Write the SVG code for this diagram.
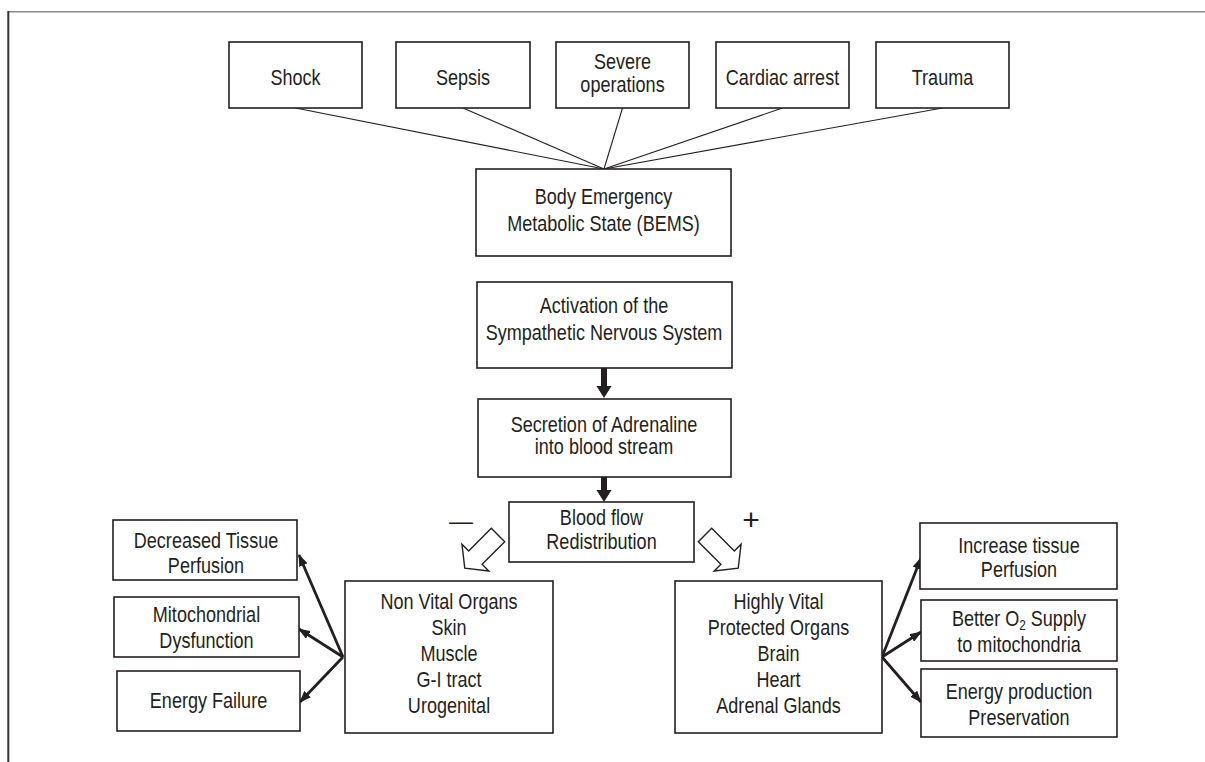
<svg xmlns="http://www.w3.org/2000/svg" width="1205" height="762" viewBox="0 0 1205 762">
<defs>
<style>
.box{fill:#fff;stroke:#231f20;stroke-width:1.6}
.t{font-family:"Liberation Sans",Arial,sans-serif;font-size:21.5px;fill:#231f20;text-anchor:middle}
.thin{stroke:#231f20;stroke-width:1.1;fill:none}
.thick{stroke:#231f20;stroke-width:2.8;fill:none;marker-end:url(#ah)}
.hollow{fill:#fff;stroke:#231f20;stroke-width:1.4;stroke-linejoin:miter}
</style>
<marker id="ah" viewBox="0 0 12 9" refX="11" refY="4.5" markerWidth="12" markerHeight="9" markerUnits="userSpaceOnUse" orient="auto">
<path d="M0,0 L12,4.5 L0,9 z" fill="#231f20"/>
</marker>
</defs>
<rect width="1205" height="762" fill="#fff"/>
<g id="frame">
<line x1="8" y1="11.7" x2="1205" y2="11.7" stroke="#8a8a8a" stroke-width="1.6"/>
<line x1="8.3" y1="11" x2="8.3" y2="762" stroke="#333" stroke-width="2"/>
</g>
<g id="connectors">
<line class="thin" x1="295.5" y1="108" x2="604" y2="169"/>
<line class="thin" x1="463" y1="108" x2="604" y2="169"/>
<line class="thin" x1="622.5" y1="108" x2="604" y2="169"/>
<line class="thin" x1="782.5" y1="108" x2="604" y2="169"/>
<line class="thin" x1="942.5" y1="108" x2="604" y2="169"/>
<polygon points="601,368 607,368 607,386 611.5,386 604,398 596.5,386 601,386" fill="#231f20"/>
<polygon points="601,477 607,477 607,490 611.5,490 604,502 596.5,490 601,490" fill="#231f20"/>
<polygon class="hollow" transform="translate(498,535) rotate(135)" points="0,-9.5 32,-9.5 32,-19 47,0 32,19 32,9.5 0,9.5"/>
<polygon class="hollow" transform="translate(705,535) rotate(45)" points="0,-9.5 32,-9.5 32,-19 47,0 32,19 32,9.5 0,9.5"/>
<line class="thick" x1="343" y1="657" x2="299" y2="555"/>
<line class="thick" x1="343" y1="657" x2="299" y2="629"/>
<line class="thick" x1="343" y1="657" x2="300" y2="702"/>
<line class="thick" x1="882" y1="657" x2="921" y2="558"/>
<line class="thick" x1="882" y1="657" x2="921" y2="632"/>
<line class="thick" x1="882" y1="657" x2="921" y2="702"/>
<text x="461" y="528.5" font-family="Liberation Sans, sans-serif" font-size="24" fill="#231f20" text-anchor="middle">—</text>
<text x="751" y="530" font-family="Liberation Sans, sans-serif" font-size="30" fill="#231f20" text-anchor="middle">+</text>
</g>
<g id="shock"><rect class="box" x="229" y="42" width="133" height="66"/><text class="t" transform="translate(295.5 85) scale(0.84 1)">Shock</text></g>
<g id="sepsis"><rect class="box" x="396" y="42" width="134" height="66"/><text class="t" transform="translate(463 85) scale(0.84 1)">Sepsis</text></g>
<g id="severe"><rect class="box" x="556" y="42" width="133" height="66"/><text class="t" transform="translate(622.5 69) scale(0.84 1)">Severe</text><text class="t" transform="translate(622.5 92) scale(0.84 1)">operations</text></g>
<g id="cardiac"><rect class="box" x="716" y="42" width="133" height="66"/><text class="t" transform="translate(782.5 85) scale(0.84 1)">Cardiac arrest</text></g>
<g id="trauma"><rect class="box" x="876" y="42" width="133" height="66"/><text class="t" transform="translate(942.5 85) scale(0.84 1)">Trauma</text></g>
<g id="bems"><rect class="box" x="476" y="169" width="255" height="87"/><text class="t" transform="translate(603.5 204) scale(0.84 1)">Body Emergency</text><text class="t" transform="translate(603.5 231) scale(0.84 1)">Metabolic State (BEMS)</text></g>
<g id="activation"><rect class="box" x="477" y="282" width="255" height="86"/><text class="t" transform="translate(604 313) scale(0.84 1)">Activation of the</text><text class="t" transform="translate(604 340) scale(0.84 1)">Sympathetic Nervous System</text></g>
<g id="secretion"><rect class="box" x="478" y="399" width="253" height="78"/><text class="t" transform="translate(604 431.5) scale(0.84 1)">Secretion of Adrenaline</text><text class="t" transform="translate(604 454) scale(0.84 1)">into blood stream</text></g>
<g id="bloodflow"><rect class="box" x="509" y="502" width="185" height="60"/><text class="t" transform="translate(601.5 525) scale(0.84 1)">Blood flow</text><text class="t" transform="translate(601.5 549) scale(0.84 1)">Redistribution</text></g>
<g id="decreased"><rect class="box" x="113" y="520" width="184" height="60"/><text class="t" transform="translate(206 548) scale(0.84 1)">Decreased Tissue</text><text class="t" transform="translate(206 573) scale(0.84 1)">Perfusion</text></g>
<g id="mito"><rect class="box" x="114" y="597" width="185" height="60"/><text class="t" transform="translate(206.5 622) scale(0.84 1)">Mitochondrial</text><text class="t" transform="translate(206.5 648) scale(0.84 1)">Dysfunction</text></g>
<g id="energyfail"><rect class="box" x="117" y="671" width="183" height="60"/><text class="t" transform="translate(208.5 708) scale(0.84 1)">Energy Failure</text></g>
<g id="nonvital"><rect class="box" x="345" y="581" width="208" height="152"/>
<text class="t" transform="translate(449 609) scale(0.84 1)">Non Vital Organs</text><text class="t" transform="translate(449 635) scale(0.84 1)">Skin</text><text class="t" transform="translate(449 661) scale(0.84 1)">Muscle</text><text class="t" transform="translate(449 687) scale(0.84 1)">G-I tract</text><text class="t" transform="translate(449 713) scale(0.84 1)">Urogenital</text></g>
<g id="vital"><rect class="box" x="675" y="581" width="207" height="152"/>
<text class="t" transform="translate(778.5 609) scale(0.84 1)">Highly Vital</text><text class="t" transform="translate(778.5 635) scale(0.84 1)">Protected Organs</text><text class="t" transform="translate(778.5 661) scale(0.84 1)">Brain</text><text class="t" transform="translate(778.5 687) scale(0.84 1)">Heart</text><text class="t" transform="translate(778.5 713) scale(0.84 1)">Adrenal Glands</text></g>
<g id="increase"><rect class="box" x="920" y="523" width="197" height="66"/><text class="t" transform="translate(1019 553) scale(0.84 1)">Increase tissue</text><text class="t" transform="translate(1019 577) scale(0.84 1)">Perfusion</text></g>
<g id="better"><rect class="box" x="921" y="600" width="196" height="61"/><text class="t" transform="translate(1019 626) scale(0.84 1)">Better O<tspan font-size="14" dy="4">2</tspan><tspan dy="-4"> Supply</tspan></text><text class="t" transform="translate(1019 652) scale(0.84 1)">to mitochondria</text></g>
<g id="energyprod"><rect class="box" x="921" y="669" width="196" height="68"/><text class="t" transform="translate(1019 699) scale(0.84 1)">Energy production</text><text class="t" transform="translate(1019 725) scale(0.84 1)">Preservation</text></g>
</svg>
